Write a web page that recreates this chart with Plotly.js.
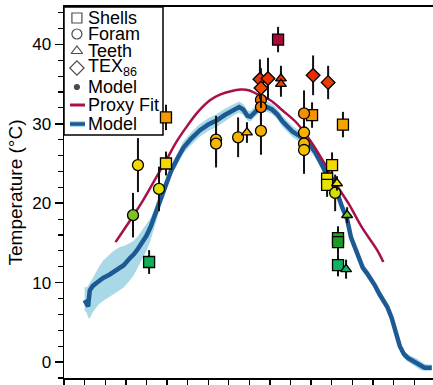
<!DOCTYPE html>
<html>
<head>
<meta charset="utf-8">
<script src="https://cdn.plot.ly/plotly-3.0.1.min.js"></script>
<style>html,body{margin:0;padding:0;background:#fff;}#chart{width:433px;height:385px;}</style>
</head>
<body>
<div id="chart"></div>
<script>
// Model curve (latitude, mean, lower and upper envelope)
const modelLat = [-80,-79,-78.3,-77.5,-76,-73,-71,-68,-66,-63,-61,-58,-56,-54,-52,-50,-48,-46,-44,-42,-40,-38,-35,-32,-28,-24,-20,-16,-12,-8,-5,-3,-1,0.5,2,4,6,8.5,11,13.5,16,18.5,21,24,27,30,32,34,36,38,40,43,45,47.4,49.3,51,53,55,57,59,61,63,65,67,69,71,73,75,77,79,81,83,85,87,88.5];
const modelT   = [7.8,7.4,7.0,9.0,9.6,10.2,10.6,11.0,11.3,11.8,12.2,13.1,13.6,14.3,15.0,15.9,17.0,18.5,20.0,21.5,22.9,24.1,25.6,27.0,28.2,29.2,29.9,30.4,31.1,31.7,32.1,31.8,31.0,30.9,31.3,31.8,32.1,32.1,31.8,31.2,30.3,29.6,29.0,28.5,27.8,27.1,26.4,25.5,24.4,23.2,22.3,21.0,19.5,18.0,15.7,14.6,13.2,11.9,11.2,10.5,9.6,8.6,7.8,6.9,5.6,3.8,2.0,1.0,0.5,0.2,-0.1,-0.5,-0.7,-0.7,-0.7];
const modelLo  = [6.5,6.2,5.6,5.5,6.3,7.3,7.7,8.2,8.5,9.1,9.4,10.3,11.0,12.0,13.0,14.0,15.3,17.2,18.8,20.6,22.2,23.4,24.9,26.3,27.4,28.4,29.1,29.6,30.3,31.0,31.4,31.1,30.4,30.3,30.7,31.2,31.5,31.5,31.2,30.6,29.6,28.9,28.3,27.8,27.1,26.4,25.7,24.8,23.7,22.5,21.6,20.4,18.9,17.4,15.1,14.0,12.7,11.4,10.7,10.0,9.1,8.1,7.3,6.4,5.1,3.3,1.5,0.5,0.0,-0.3,-0.6,-1.0,-1.1,-1.1,-1.1];
const modelHi  = [9.5,9.4,9.6,10.0,10.6,12.0,12.8,13.5,14.0,14.5,14.6,15.0,15.3,15.9,16.7,17.4,18.1,19.4,21.0,22.3,23.6,24.8,26.3,27.8,29.0,30.0,30.7,31.2,31.9,32.4,32.8,32.5,31.7,31.6,32.0,32.5,32.8,32.8,32.5,31.9,31.0,30.3,29.7,29.2,28.5,27.8,27.1,26.2,25.1,23.9,23.0,21.6,20.1,18.6,16.3,15.2,13.7,12.4,11.7,11.0,10.1,9.1,8.3,7.4,6.1,4.3,2.5,1.5,1.0,0.7,0.5,0.1,-0.2,-0.3,-0.3];

// Proxy fit curve
const fitLat = [-65,-58,-52,-46,-40,-35,-30,-25,-19,-14,-9,-4.5,0,4,10,16,23,29.5,36,39,42.5,48,55,62,65];
const fitT   = [15.1,17.8,20.2,22.9,25.6,27.9,29.8,31.5,33.0,33.7,34.1,34.3,34.2,33.7,33.0,31.7,30.1,27.9,25.2,23.8,22.2,20.0,16.8,14.1,12.6];

// Proxy data
const shellsLat = [-40.5,-40.5,-48.7,13.9,30.4,45.4,40.1,37.7,37.7,43.0,43.0,43.0];
const shellsT   = [30.8,25.0,12.6,40.6,31.1,29.9,24.8,23.1,22.3,15.6,15.1,12.2];
const shellsErr = [1.6,1.5,1.5,1.6,1.6,1.6,1.6,1.5,1.5,1.5,1.5,1.4];

const foramLat = [-54.1,-43.9,-56.5,-16.2,-16.2,-5.5,5.6,5.6,5.6,26.5,26.5,26.5,26.5,41.6];
const foramT   = [24.8,21.8,18.5,28.0,27.5,28.3,33.0,32.1,29.1,31.3,28.9,27.5,26.7,21.3];
const foramErr = [3.4,2.8,2.8,3.0,3.0,2.5,2.5,2.5,3.0,2.9,3.0,3.0,3.0,2.3];

const teethLat = [-1.2,15.3,15.3,42.5,47.4,46.9];
const teethT   = [28.9,35.7,35.0,22.5,18.5,11.7];
const teethErr = [1.3,1.6,1.6,0.9,1.0,1.2];

const texLat = [5.1,9.0,5.6,30.9,38.2];
const texT   = [35.6,35.7,34.5,36.1,35.2];
const texErr = [2.5,2.6,2.5,2.5,2.1];

const legendLabels = ['Shells','Foram','Teeth','TEX<sub>86</sub>','Model','Proxy Fit','Model'];

const cscale = [
  [0.000,'#14b08c'],[0.050,'#0fb155'],[0.143,'#1d9b22'],[0.250,'#80c31e'],
  [0.343,'#d6de00'],[0.400,'#f4e400'],[0.467,'#f6d800'],[0.533,'#f5b900'],
  [0.600,'#f5b000'],[0.667,'#f59600'],[0.717,'#f07400'],[0.783,'#ee4a00'],
  [0.833,'#ec2c00'],[0.883,'#e01810'],[1.000,'#a0093c']
];

function proxyTrace(lat, t, err, symbol, size){
  return {
    x: lat, y: t, type:'scatter', mode:'markers', showlegend:false, hoverinfo:'skip',
    error_y:{type:'data', array: err, visible:true, color:'#111', thickness:2, width:0},
    marker:{symbol: symbol, size: size, color: t, colorscale: cscale, cmin:11, cmax:41,
            line:{color:'#000', width:1.3}}
  };
}

const traces = [
  {x: modelLat, y: modelLo, type:'scatter', mode:'lines', line:{width:0, color:'rgba(0,0,0,0)'}, showlegend:false, hoverinfo:'skip'},
  {x: modelLat, y: modelHi, type:'scatter', mode:'lines', line:{width:0, color:'rgba(0,0,0,0)'}, fill:'tonexty', fillcolor:'#a9d9e6', showlegend:false, hoverinfo:'skip'},
  {x: modelLat, y: modelT, type:'scatter', mode:'lines', line:{width:4.5, color:'#1d5a94'}, showlegend:false, hoverinfo:'skip'},
  {x: fitLat, y: fitT, type:'scatter', mode:'lines', line:{width:2.5, color:'#a8104a', shape:'spline'}, showlegend:false, hoverinfo:'skip'},
  proxyTrace(shellsLat, shellsT, shellsErr, 'square', 11),
  proxyTrace(foramLat, foramT, foramErr, 'circle', 11),
  proxyTrace(teethLat, teethT, teethErr, 'triangle-up', 9.5),
  proxyTrace(texLat, texT, texErr, 'diamond', 10.5),
  // legend symbols (drawn on a hidden 0-1 overlay axis pair)
  {x:[0.035,0.035,0.035,0.035,0.035], y:[0.9704,0.9272,0.8814,0.8356,0.7844], xaxis:'x2', yaxis:'y2',
   type:'scatter', mode:'markers', showlegend:false, hoverinfo:'skip',
   marker:{symbol:['square-open','circle-open','triangle-up-open','diamond-open','circle'],
           size:[10,10,10,11,5], color:'#000', line:{width:1.2, color:'#000'}}}
];

const lx = 0.0596;
const ly = [0.9704,0.9272,0.8814,0.8356,0.7844,0.7358,0.6846];
const annotations = legendLabels.map((t,i)=>({
  text:t, x:lx, y:ly[i], xref:'paper', yref:'paper', xanchor:'left', yanchor:'middle',
  showarrow:false, font:{family:'Liberation Sans, Arial, sans-serif', size:18, color:'#000'}
}));

const shapes = [
  {type:'rect', xref:'paper', yref:'paper', x0:0, x1:0.2683, y0:0.655, y1:1, line:{color:'#000', width:1.5}, layer:'below'},
  {type:'line', xref:'paper', yref:'paper', x0:0.0163, x1:0.0569, y0:0.7358, y1:0.7358, line:{color:'#a8104a', width:3}},
  {type:'line', xref:'paper', yref:'paper', x0:0.0163, x1:0.0569, y0:0.6846, y1:0.6846, line:{color:'#a9d9e6', width:6}},
  {type:'line', xref:'paper', yref:'paper', x0:0.0163, x1:0.0569, y0:0.6846, y1:0.6846, line:{color:'#1d5a94', width:3.5}}
];

const layout = {
  width:433, height:385,
  margin:{l:64, r:0, t:7, b:7},
  paper_bgcolor:'#fff', plot_bgcolor:'#fff',
  font:{family:'Liberation Sans, Arial, sans-serif', color:'#000'},
  showlegend:false,
  xaxis:{range:[-90,89.1], showgrid:false, zeroline:false, showline:true, linewidth:2, linecolor:'#000', mirror:true,
         ticks:'outside', tick0:-90, dtick:30, ticklen:7, tickwidth:1.5, tickcolor:'#000', showticklabels:false,
         minor:{dtick:10, ticks:'outside', ticklen:6, tickwidth:1.2, tickcolor:'#000'}},
  yaxis:{range:[-2.0,44.7], showgrid:false, zeroline:false, showline:true, linewidth:1.5, linecolor:'#000',
         ticks:'outside', tick0:0, dtick:10, ticklen:8, tickwidth:1.5, tickcolor:'#000',
         tickfont:{size:17}, minor:{dtick:2, ticks:'outside', ticklen:5, tickwidth:1.2, tickcolor:'#000'},
         title:{text:'Temperature (°C)', font:{size:19}, standoff:4}},
  xaxis2:{overlaying:'x', range:[0,1], visible:false, fixedrange:true},
  yaxis2:{overlaying:'y', range:[0,1], visible:false, fixedrange:true},
  annotations: annotations,
  shapes: shapes
};

Plotly.newPlot('chart', traces, layout, {displayModeBar:false, staticPlot:true});
</script>
</body>
</html>
